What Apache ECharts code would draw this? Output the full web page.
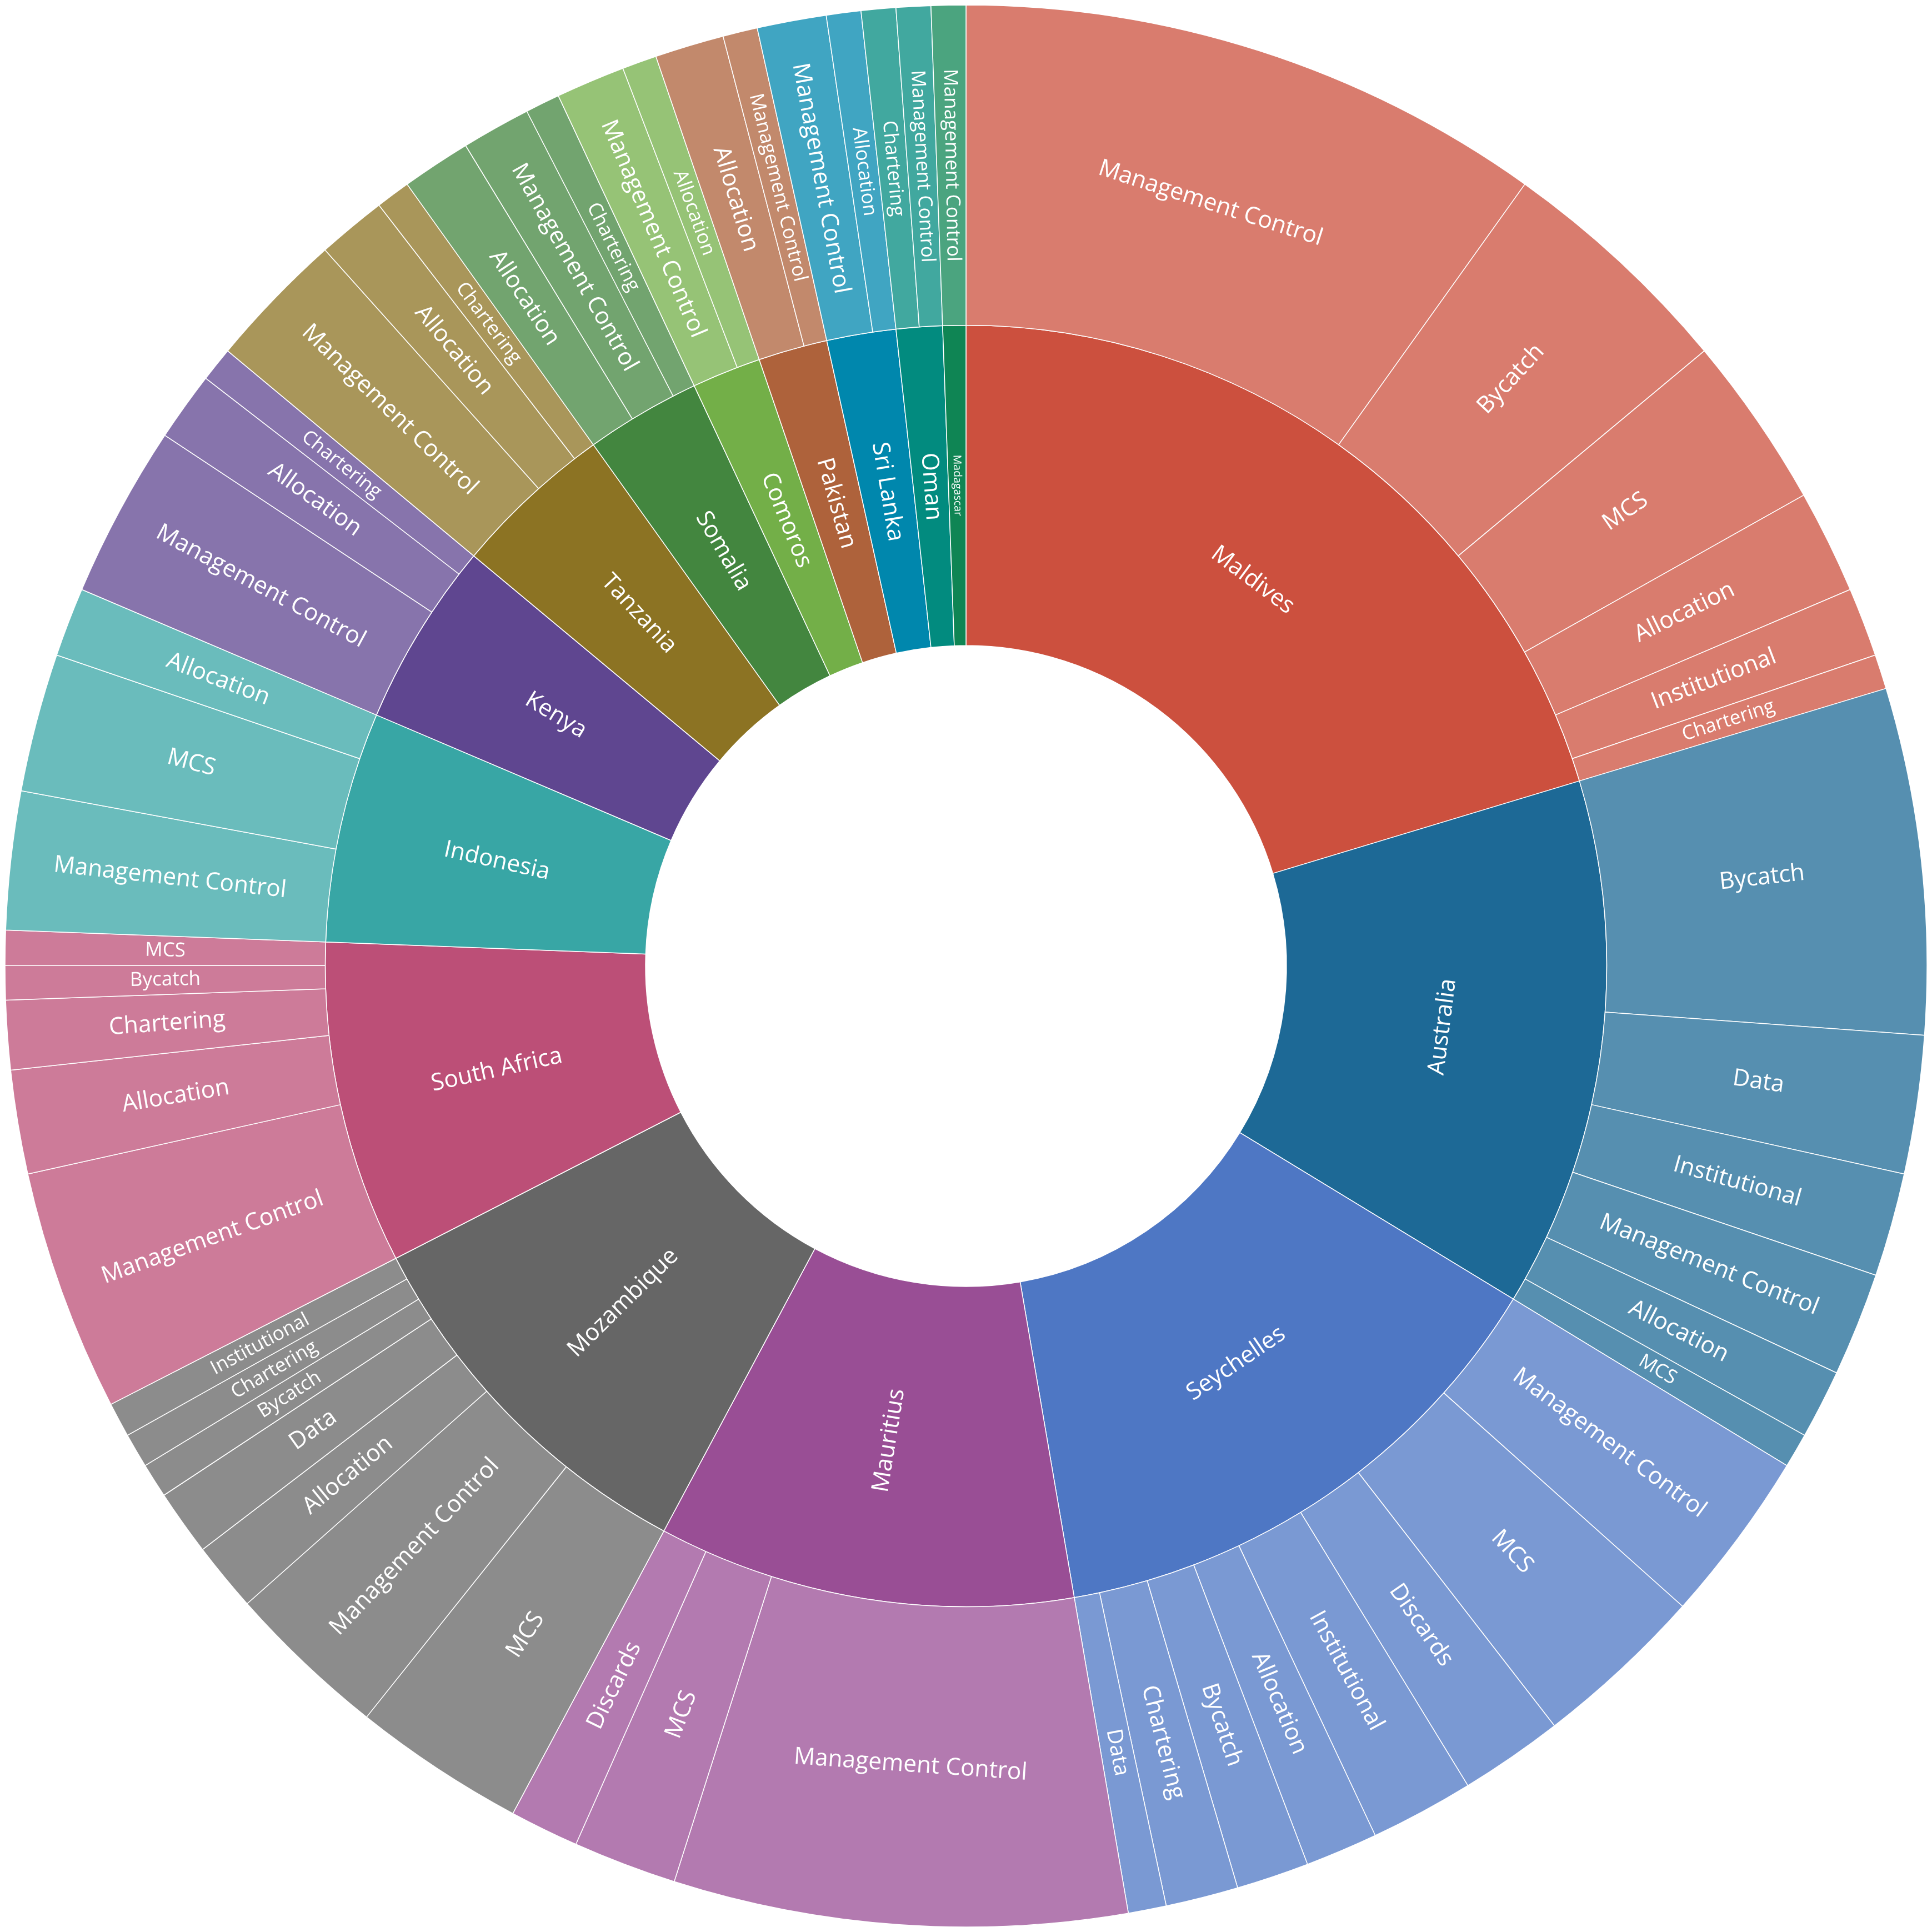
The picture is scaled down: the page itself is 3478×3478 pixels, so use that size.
<!DOCTYPE html>
<html>
<head>
<meta charset="utf-8">
<script src="https://cdn.jsdelivr.net/npm/echarts@6/dist/echarts.min.js"></script>
<style>
html, body { margin: 0; padding: 0; background: #fff; }
#chart { width: 3478px; height: 3478px; }
</style>
</head>
<body>
<div id="chart"></div>
<script>
// countries, clockwise from 12 o'clock
var countries = ["Maldives", "Australia", "Seychelles", "Mauritius", "Mozambique", "South Africa",
    "Indonesia", "Kenya", "Tanzania", "Somalia", "Comoros", "Pakistan", "Sri Lanka", "Oman", "Madagascar"];

// measure categories per country (outer ring), same order as countries
var leafNames = [
    ["Management Control", "Bycatch", "MCS", "Allocation", "Institutional", "Chartering"],
    ["Bycatch", "Data", "Institutional", "Management Control", "Allocation", "MCS"],
    ["Management Control", "MCS", "Discards", "Institutional", "Allocation", "Bycatch", "Chartering", "Data"],
    ["Management Control", "MCS", "Discards"],
    ["MCS", "Management Control", "Allocation", "Data", "Bycatch", "Chartering", "Institutional"],
    ["Management Control", "Allocation", "Chartering", "Bycatch", "MCS"],
    ["Management Control", "MCS", "Allocation"],
    ["Management Control", "Allocation", "Chartering"],
    ["Management Control", "Allocation", "Chartering"],
    ["Allocation", "Management Control", "Chartering"],
    ["Management Control", "Allocation"],
    ["Allocation", "Management Control"],
    ["Management Control", "Allocation"],
    ["Chartering", "Management Control"],
    ["Management Control"]
];
var leafValues = [
    [17, 7, 5, 3, 2, 1],
    [10, 4, 3, 3, 2, 1],
    [5, 5, 3, 3, 2.1, 2.1, 2.1, 1.1],
    [13.1, 3, 2],
    [5, 4.7, 2, 1.9, 1, 1, 1],
    [7, 3, 2, 1, 1],
    [4, 4, 2],
    [5, 2, 1],
    [4, 2, 1],
    [2, 2, 1],
    [2, 1],
    [2, 1],
    [2, 1],
    [1, 1],
    [1]
];

var countryColors = ["#CC503E", "#1D6996", "#4E77C4", "#994E95", "#666666", "#BC4F77", "#38A6A5",
    "#5F4690", "#8C7323", "#43863F", "#73AF48", "#AE623B", "#0087AD", "#028B7F", "#0F8554"];

var FONT = '"Open Sans", sans-serif';
var MAX_FONT = 42.5;
var R0 = 577, R1 = 1153.5, R2 = 1730;

var ctx = document.createElement("canvas").getContext("2d");
function emWidth(text) {
    ctx.font = "100px " + FONT;
    return ctx.measureText(text).width / 100;
}

// outer ring = parent colour at 75% over white
function tint(hex) {
    var n = parseInt(hex.slice(1), 16);
    var c = [(n >> 16) & 255, (n >> 8) & 255, n & 255].map(function (v) {
        return Math.round(v * 0.75 + 255 * 0.25);
    });
    return "rgb(" + c.join(",") + ")";
}

function sum(arr) {
    return arr.reduce(function (a, b) { return a + b; }, 0);
}

var total = sum(leafValues.map(sum));

// pick orientation along the longer side of the sector, shrink text to fit
function fitLabel(text, value, r0, r1) {
    var ang = value / total * 2 * Math.PI;
    var thick = r1 - r0;
    var arc = (r0 + r1) / 2 * ang;
    var em = emWidth(text);
    var size, rot;
    if (arc > thick) {
        rot = "tangential";
        size = Math.min(MAX_FONT, (thick - 10) / 1.36, (arc - 20) / em);
    } else {
        rot = "radial";
        size = Math.min(MAX_FONT, (arc - 5) / 1.36, (thick - 20) / em);
    }
    return { rotate: rot, fontSize: Math.round(size * 10) / 10 };
}

var data = countries.map(function (c, i) {
    var v = sum(leafValues[i]);
    return {
        name: c,
        value: v,
        itemStyle: { color: countryColors[i] },
        label: fitLabel(c, v, R0, R1),
        children: leafNames[i].map(function (n, j) {
            return {
                name: n,
                value: leafValues[i][j],
                itemStyle: { color: tint(countryColors[i]) },
                label: fitLabel(n, leafValues[i][j], R1, R2)
            };
        })
    };
});

var chart = echarts.init(document.getElementById("chart"));
chart.setOption({
    backgroundColor: "#ffffff",
    animation: false,
    series: [{
        type: "sunburst",
        center: ["50%", "50%"],
        radius: [R0, R2],
        startAngle: 90,
        clockwise: true,
        sort: null,
        nodeClick: false,
        emphasis: { focus: "none" },
        itemStyle: { borderColor: "#ffffff", borderWidth: 1.5 },
        label: { color: "#ffffff", fontFamily: FONT, position: "inside", align: "center" },
        data: data
    }]
});
</script>
</body>
</html>
